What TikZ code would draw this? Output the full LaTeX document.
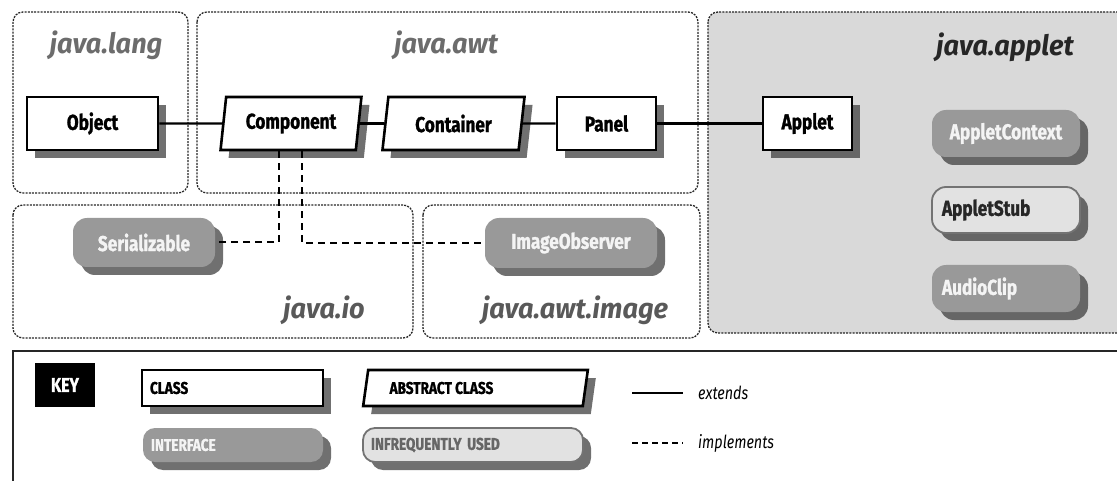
\documentclass[tikz,border=0pt]{standalone}
\usepackage{fontspec}
\setmainfont[FakeStretch=0.8, BoldFeatures={FakeBold=1.2}]{Fira Sans}
\newfontfamily\labelfont[FakeStretch=0.97]{Fira Sans}
\usetikzlibrary{shapes.geometric,shadows}
\definecolor{ifcfill}{HTML}{999999}
\definecolor{ifctext}{HTML}{F4F4F4}
\definecolor{rarefill}{HTML}{E2E2E2}
\definecolor{appletbg}{HTML}{D9D9D9}
\definecolor{labelgray}{HTML}{6C6C6C}
\tikzset{
  pkg/.style={draw=black!85, line width=1.3pt, dash pattern=on 2pt off 1.2pt, rounded corners=10pt},
  shad/.style={drop shadow={shadow xshift=8pt, shadow yshift=-8pt, fill=black!75, opacity=0.75}},
  boxfont/.style={font=\fontsize{21.5}{21.5}\selectfont\bfseries},
  cls/.style={draw, line width=2.6pt, fill=white, shad, boxfont, inner sep=0pt},
  abscls/.style={trapezium, trapezium left angle=79, trapezium right angle=101, trapezium stretches=true, draw, line width=2.6pt, fill=white, shad, boxfont, inner sep=0pt},
  ifc/.style={rounded corners=14pt, fill=ifcfill, text=ifctext, shad, boxfont, inner sep=0pt},
  rare/.style={rounded corners=14pt, draw=black!55, line width=1.8pt, fill=rarefill, text=black!85, shad, boxfont, inner sep=0pt},
  pkglabel/.style={font=\labelfont\fontsize{28}{28}\selectfont\bfseries\itshape, text=labelgray, inner sep=0pt},
  ext/.style={line width=2.3pt},
  impl/.style={line width=2pt, dash pattern=on 7pt off 5pt},
  keyfont/.style={font=\fontsize{17}{17}\selectfont\bfseries},
  keytext/.style={font=\fontsize{18}{18}\selectfont\itshape, anchor=west, inner sep=0pt}
}
\begin{document}
\begin{tikzpicture}[x=1pt,y=-1pt]
\useasboundingbox (0,0) rectangle (1117,481);
\begin{scope}
\clip (0,0) rectangle (1117,481);
% packages
\draw[pkg, fill=appletbg] (708,12) rectangle (1130,333);
\draw[pkg] (13,12) rectangle (188,193);
\draw[pkg] (197,12) rectangle (698,193);
\draw[pkg] (13,205) rectangle (413,338);
\draw[pkg] (423,205) rectangle (700,338);
\node[pkglabel] (lang) at (106,45) {java.lang};
\node[pkglabel] (awt) at (446,45) {java.awt};
\node[pkglabel, text=black!85] (applet) at (1005,47) {java.applet};
\node[pkglabel, text=black!65] (io) at (324,310) {java.io};
\node[pkglabel, text=black!65] (awtimage) at (575,310) {java.awt.image};

% classes
\node[cls, minimum width=131, minimum height=53] (object) at (92.5,123.5) {Object};
\node[abscls, minimum width=142, minimum height=53] (comp) at (291,123.5) {Component};
\node[abscls, minimum width=143, minimum height=53] (cont) at (453.5,123.5) {Container};
\node[cls, minimum width=99, minimum height=53] (panel) at (606.5,123.5) {Panel};
\node[cls, minimum width=89, minimum height=53] (appletc) at (807.5,123.5) {Applet};

\node[ifc, minimum width=148, minimum height=47, text width=128, align=center] (ctx) at (1006,133.5) {AppletContext};
\node[rare, minimum width=148, minimum height=46, text width=128, align=left] (stub) at (1006,210) {AppletStub};
\node[ifc, minimum width=148, minimum height=47, text width=128, align=left] (audio) at (1006,288.5) {AudioClip};
\node[ifc, minimum width=142, minimum height=49] (ser) at (144,242.5) {Serializable};
\node[ifc, minimum width=172, minimum height=50] (imgobs) at (571,243) {ImageObserver};

% connectors
\draw[ext] (object) -- (comp);
\draw[ext] (comp) -- (cont);
\draw[ext] (cont) -- (panel);
\draw[ext] (panel) -- (appletc);
\draw[impl] ([xshift=-12pt]comp.south) |- (ser.east);
\draw[impl] ([xshift=11pt]comp.south) |- (imgobs.west);
\end{scope}

% key
\draw[line width=2.2pt, black!85] (13,481) -- (13,351) -- (1117,351);
\node[fill=black, text=white, minimum width=60, minimum height=44, font=\fontsize{20}{20}\selectfont\bfseries, inner sep=0pt] (key) at (65,385) {KEY};
\node[cls, keyfont, minimum width=181, minimum height=36, text width=165, align=left] (kclass) at (232.5,388) {CLASS};
\node[abscls, keyfont, minimum width=225, minimum height=36, trapezium left angle=72, trapezium right angle=108] (kabs) at (475.5,388) {ABSTRACT CLASS\hspace*{68pt}};
\node[ifc, keyfont, rounded corners=12pt, minimum width=180, minimum height=34, text width=164, align=left] (kifc) at (233,445) {INTERFACE};
\node[rare, keyfont, rounded corners=12pt, minimum width=220, minimum height=34, text width=204, align=left, text=black!60] (krare) at (473,445) {INFREQUENTLY USED};
\coordinate (e1) at (632,393);
\coordinate (e2) at (683,393);
\coordinate (i1) at (632,443);
\coordinate (i2) at (683,443);
\draw[ext] (e1) -- (e2);
\draw[impl, line width=1.6pt, dash pattern=on 6pt off 4pt] (i1) -- (i2);
\node[keytext] (kext) at (698,393) {extends};
\node[keytext] (kimpl) at (698,443) {implements};
\end{tikzpicture}
\end{document}
